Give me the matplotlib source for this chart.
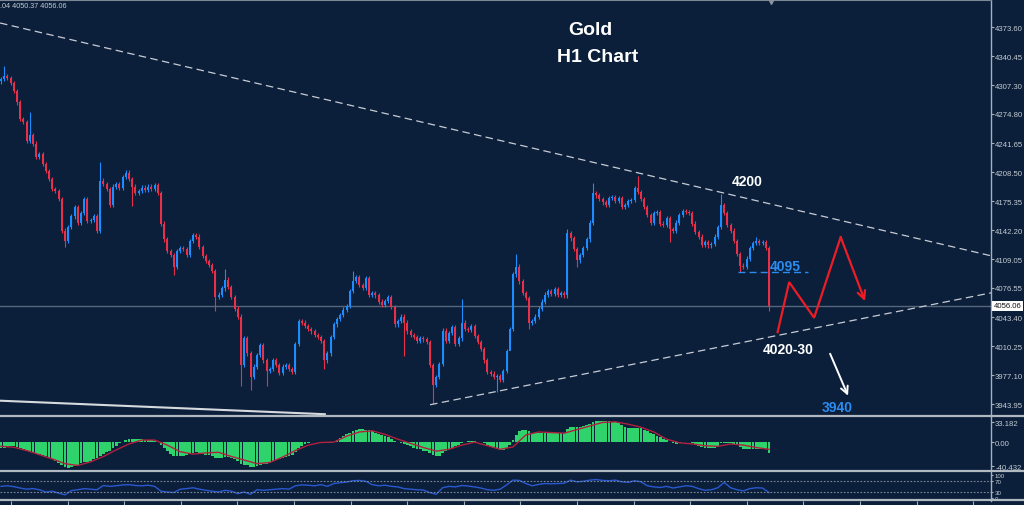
import numpy as np
import matplotlib
matplotlib.use("Agg")
import matplotlib.pyplot as plt
from matplotlib.lines import Line2D

plt.rcParams['font.family'] = ['Liberation Sans', 'DejaVu Sans']

bg = "#0b1f3a"
up_col = "#1c8cff"
dn_col = "#e8304a"
axis_col = "#a8b0ba"
label_col = "#c4cad2"
trend_col = "#c8ccd4"
hist_col = "#2fd36c"
sig_col = "#b2203e"
rsi_col = "#2a58d0"
arrow_red = "#ee1c25"
text_blue = "#2a8cf0"

# ------------------------------------------------------------
# Data
# ------------------------------------------------------------
first_open = 4312
closes = [
    4315, 4318, 4316, 4310, 4301, 4288, 4269, 4266, 4244, 4251,
    4241, 4226, 4229, 4218, 4210, 4201, 4189, 4187, 4178, 4142,
    4130, 4146, 4158, 4169, 4151, 4162, 4178, 4153, 4154, 4158,
    4142, 4199, 4195, 4189, 4171, 4192, 4195, 4191, 4203, 4208,
    4201, 4192, 4185, 4187, 4191, 4188, 4192, 4189, 4194, 4185,
    4150, 4132, 4119, 4114, 4101, 4119, 4122, 4121, 4114, 4130,
    4137, 4135, 4123, 4113, 4107, 4103, 4096, 4066, 4069, 4076,
    4086, 4078, 4066, 4053, 4044, 3989, 4019, 4002, 3975, 3987,
    4000, 4011, 3994, 3982, 3984, 3994, 3989, 3980, 3987, 3989,
    3984, 3981, 4013, 4039, 4037, 4033, 4030, 4027, 4023, 4021,
    4016, 3994, 4002, 4021, 4035, 4041, 4046, 4052, 4056, 4073,
    4085, 4089, 4080, 4077, 4088, 4069, 4071, 4068, 4061, 4057,
    4062, 4066, 4055, 4035, 4039, 4044, 4037, 4027, 4023, 4021,
    4016, 4019, 4018, 4015, 3989, 3966, 3975, 3990, 4028, 4016,
    4025, 4032, 4013, 4019, 4037, 4030, 4029, 4033, 4022, 4015,
    4007, 3994, 3981, 3979, 3975, 3976, 3972, 3982, 4005, 4030,
    4092, 4101, 4084, 4071, 4065, 4037, 4039, 4044, 4053, 4061,
    4069, 4073, 4070, 4075, 4069, 4071, 4068, 4139, 4133, 4121,
    4108, 4114, 4122, 4132, 4151, 4185, 4182, 4178, 4174, 4171,
    4179, 4180, 4176, 4179, 4169, 4171, 4176, 4177, 4190, 4186,
    4178, 4169, 4160, 4151, 4162, 4163, 4150, 4148, 4156, 4144,
    4142, 4151, 4160, 4164, 4163, 4162, 4150, 4140, 4135, 4126,
    4129, 4125, 4127, 4135, 4146, 4171, 4162, 4148, 4142, 4130,
    4115, 4102, 4101, 4110, 4122, 4128, 4130, 4128, 4129, 4122,
    4056.06,
]
# bars with a visible long wick
spike_highs = {1: 4329, 9: 4277, 31: 4220, 70: 4098, 110: 4096, 144: 4064,
               161: 4115, 177: 4144, 185: 4196, 199: 4204, 225: 4184,
               236: 4135, 240: 4124.04}
spike_lows = {20: 4123, 41: 4170, 54: 4091, 67: 4050, 75: 3965, 78: 3960,
              83: 3965, 101: 3984, 126: 3999, 135: 3944, 155: 3958,
              159: 4013, 165: 4030, 180: 4101, 209: 4129, 231: 4095,
              240: 4050.37}
last_price = 4056.06

macd_hist = [
    -10, -9, -8, -7, -7, -8, -10, -12, -14, -15,
    -17, -19, -20, -22, -24, -27, -29, -31, -35, -38,
    -41, -43, -42, -40, -38, -35, -34, -33, -31, -29,
    -26, -24, -20, -17, -14, -10, -6, -2, 1, 3,
    5, 6, 6, 5, 5, 4, 4, 3, 2, 0,
    -5, -10, -15, -19, -23, -24, -24, -23, -22, -20,
    -18, -17, -18, -20, -21, -22, -23, -26, -27, -27,
    -25, -25, -26, -28, -31, -37, -38, -39, -42, -42,
    -40, -38, -37, -36, -34, -32, -30, -29, -27, -25,
    -23, -21, -16, -10, -6, -3, -1, 0, 1, 1,
    0, -2, -2, -1, 1, 4, 7, 10, 13, 16,
    19, 21, 22, 22, 21, 20, 18, 16, 14, 12,
    10, 8, 6, 2, 0, -2, -3, -5, -7, -9,
    -11, -12, -14, -15, -18, -22, -24, -24, -18, -15,
    -12, -9, -7, -5, -2, 1, 2, 2, 2, 1,
    0, -2, -5, -8, -10, -12, -13, -13, -10, -5,
    3, 12, 18, 20, 21, 18, 16, 15, 15, 15,
    16, 16, 15, 16, 15, 15, 15, 22, 25, 26,
    26, 26, 27, 28, 30, 34, 36, 36, 36, 35,
    35, 34, 33, 32, 28, 25, 24, 23, 24, 24,
    23, 21, 19, 15, 13, 11, 8, 5, 4, 1,
    -2, -3, -2, 0, 1, 1, -1, -4, -6, -8,
    -9, -10, -10, -9, -7, -2, -1, -1, -2, -3,
    -5, -8, -11, -12, -12, -12, -11, -11, -11, -12,
    -18,
]
# signal line, one value every 4 bars
macd_signal = [
    -7, -8.5, -14, -21, -28, -36, -39, -33, -24, -13,
    -3, 3.5, 3.5, -5, -16, -20, -18, -17, -24, -30,
    -36, -34, -25, -14, -5, -0.5, 0, 10, 17, 19,
    13, 5, -2, -9, -15, -12, -5, 0, -6, -12,
    -8, 12, 17, 16, 15, 21, 27, 33, 34, 30,
    25, 17, 5, -1, -3, -6, -7, -3, -5, -9,
    -12,
]
# RSI, one value every 2 bars
rsi = [
    50, 52, 49, 44, 40, 42, 38, 30, 33, 26,
    20, 35, 38, 42, 40, 38, 53, 50, 52, 55,
    56, 53, 52, 54, 50, 33, 30, 28, 40, 42,
    45, 40, 36, 33, 30, 36, 33, 24, 30, 22,
    38, 36, 38, 40, 42, 40, 52, 55, 54, 52,
    56, 50, 60, 63, 65, 70, 71, 68, 56, 52,
    54, 50, 48, 42, 40, 38, 37, 28, 22, 45,
    50, 48, 53, 51, 48, 44, 38, 36, 40, 55,
    72, 71, 60, 52, 57, 60, 59, 60, 61, 72,
    66, 68, 72, 74, 71, 70, 72, 66, 64, 70,
    66, 52, 48, 46, 50, 44, 48, 52, 50, 42,
    36, 38, 45, 64, 45, 38, 34, 42, 45, 44,
    28,
]

price_ticks = [4373.60, 4340.45, 4307.30, 4274.80, 4241.65, 4208.50, 4175.35,
               4142.20, 4109.05, 4076.55, 4043.40, 4010.25, 3977.10, 3943.95]
macd_ticks = [33.182, 0.0, -40.432]
macd_labels = ["33.182", "0.00", "-40.432"]
rsi_labels = ["100", "70", "30", "0"]

# drawn objects: (bar index, price)
upper_trend = [(-0.3, 4378.5), (309.4, 4113.2)]
lower_trend = [(134.1, 3943.5), (309.4, 4071.0)]
old_trend = [(-0.3, 3948.1), (101.2, 3932.7)]
level_4095 = [(230.3, 4095), (252.2, 4095)]
zigzag = [(242.7, 4026.3), (246.3, 4083.2), (254.1, 4042.6), (262.4, 4134.5), (270.0, 4061.6)]
down_arrow = [(259.1, 4001.6), (264.7, 3953.8)]

# ------------------------------------------------------------
# Layout
# ------------------------------------------------------------
W, H = 1024, 506
fig = plt.figure(figsize=(W / 100, H / 100), dpi=100, facecolor=bg)


def panel(top, bottom):
    return fig.add_axes([0, 1 - bottom / H, 991 / W, (bottom - top) / H])


ax = panel(1, 416.7)
ax_macd = panel(417.5, 471)
ax_rsi = panel(473.2, 501.5)

for a in (ax, ax_macd, ax_rsi):
    a.set_facecolor(bg)
    a.set_xlim(-0.3125, 309.375)
    for s in ("left", "top", "bottom"):
        a.spines[s].set_visible(False)
    a.spines["right"].set_color(axis_col)
    a.spines["right"].set_linewidth(1)
    a.yaxis.tick_right()
    a.tick_params(axis="y", color=axis_col, labelcolor=label_col,
                  labelsize=5.6, length=2, width=0.8, pad=1)
    a.tick_params(axis="x", bottom=False, labelbottom=False)
ax.spines["top"].set_visible(True)
ax.spines["top"].set_color("#7e8894")

# separators between the windows
for yy in (416.7, 471.7, 501.3):
    fig.add_artist(Line2D([0, 1], [1 - yy / H] * 2, color="#b0b8c0", lw=1.6))

# ------------------------------------------------------------
# Price window
# ------------------------------------------------------------
c = np.array(closes, float)
o = np.r_[first_open, c[:-1]]
idx = np.arange(len(c))
hi = np.maximum(o, c) + 2.5
lo = np.minimum(o, c) - 2.5
for k, v in spike_highs.items():
    hi[k] = v
for k, v in spike_lows.items():
    lo[k] = v
cols = np.where(c >= o, up_col, dn_col)

ax.axhline(last_price, color="#56667c", lw=1, zorder=1)
ax.vlines(idx, lo, hi, colors=cols, lw=0.8, zorder=2)
ax.bar(idx, np.maximum(np.abs(c - o), 0.8), bottom=np.minimum(o, c),
       width=0.66, color=cols, linewidth=0, zorder=3)

ax.set_ylim(3931.0, 4404.7)
ax.set_yticks(price_ticks)
ax.set_yticklabels([f"{v:.2f}" for v in price_ticks])
ax.text(1.003, last_price, f"{last_price:.2f}", transform=ax.get_yaxis_transform(),
        fontsize=5.6, color="#111111", va="center", ha="left", clip_on=False,
        bbox=dict(boxstyle="square,pad=0.2", fc="white", ec="none"))

dash = (0, (6, 3.5))
for line in (upper_trend, lower_trend):
    xs, ys = zip(*line)
    ax.plot(xs, ys, color=trend_col, lw=0.9, ls=dash, zorder=4)
xs, ys = zip(*old_trend)
ax.plot(xs, ys, color="#d6dade", lw=1.5, zorder=4)
xs, ys = zip(*level_4095)
ax.plot(xs, ys, color=text_blue, lw=1, ls=(0, (5, 3)), zorder=4)

xs, ys = zip(*zigzag)
ax.plot(xs[:-1], ys[:-1], color=arrow_red, lw=1.6, zorder=5, solid_joinstyle="miter")
ax.annotate("", xy=zigzag[-1], xytext=zigzag[-2],
            arrowprops=dict(arrowstyle="->", color=arrow_red, lw=1.6,
                            mutation_scale=14, shrinkA=0, shrinkB=0), zorder=5)
ax.annotate("", xy=down_arrow[1], xytext=down_arrow[0],
            arrowprops=dict(arrowstyle="->", color="white", lw=1.4,
                            mutation_scale=13, shrinkA=0, shrinkB=0), zorder=5)

ax.plot([240.6], [4403.5], marker="v", ms=4, color="#8a929c", clip_on=False, zorder=6)

bold = dict(fontweight="bold", ha="center", va="center", zorder=6)
ax.text(184.1, 4371.6, "Gold", color="white", fontsize=14, **bold)
ax.text(186.3, 4339.8, "H1 Chart", color="white", fontsize=14, **bold)
ax.text(233.1, 4198.6, "4200", color="white", fontsize=10, **bold)
ax.text(245.0, 4101.8, "4095", color=text_blue, fontsize=10, **bold)
ax.text(246.0, 4007.3, "4020-30", color="white", fontsize=10, **bold)
ax.text(261.3, 3941.3, "3940", color=text_blue, fontsize=10, **bold)

fig.text(0, 1 - 6.3 / H, ".04 4050.37 4056.06", fontsize=5.2, color=label_col,
         ha="left", va="center")

# ------------------------------------------------------------
# MACD window
# ------------------------------------------------------------
ax_macd.bar(idx, macd_hist, width=0.85, color=hist_col, linewidth=0)
ax_macd.plot(np.arange(len(macd_signal)) * 4, macd_signal, color=sig_col, lw=1)
ax_macd.set_ylim(-46.6, 42.9)
ax_macd.set_yticks(macd_ticks)
ax_macd.set_yticklabels(macd_labels)

# ------------------------------------------------------------
# RSI window
# ------------------------------------------------------------
ax_rsi.plot(np.arange(len(rsi)) * 2, rsi, color=rsi_col, lw=1)
for lvl in (70, 30):
    ax_rsi.axhline(lvl, color="#7d8898", lw=0.8, ls=(0, (1.5, 1.5)))
ax_rsi.set_ylim(0, 100)
# labels squeezed into the small window, kept apart so they don't collide
ax_rsi.set_yticks([91, 70, 30, 9])
ax_rsi.set_yticklabels(rsi_labels)
ax_rsi.tick_params(axis="y", labelsize=4.4, length=1.5)
ax_rsi.set_xticks(np.arange(3.1, 309, 17.69))
ax_rsi.tick_params(axis="x", bottom=True, direction="out", length=3,
                   color=axis_col, width=0.8)

fig.savefig("out.png", dpi=100, facecolor=bg)
